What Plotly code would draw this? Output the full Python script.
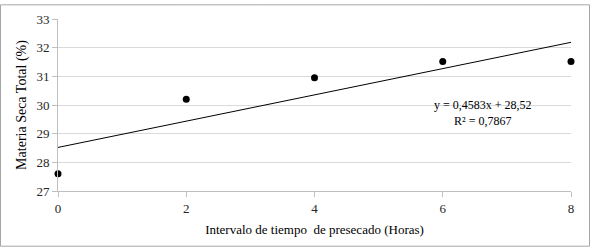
import plotly.graph_objects as go

hours = [0, 2, 4, 6, 8]
materia_seca = [27.6, 30.2, 30.95, 31.52, 31.52]
slope = 0.4583
intercept = 28.52
trend_x = [0, 8]
trend_y = [slope * x + intercept for x in trend_x]
eq_text = "y = 0,4583x + 28,52<br>R² = 0,7867"

W, H = 590, 248
ml, mr, mt, mb = 58, 19, 15, 57
pw, ph = W - ml - mr, H - mt - mb

font = "Liberation Serif, Times New Roman, serif"

fig = go.Figure()
fig.add_trace(go.Scatter(x=trend_x, y=trend_y, mode="lines",
                         line=dict(color="black", width=1), hoverinfo="skip"))
fig.add_trace(go.Scatter(x=hours, y=materia_seca, mode="markers",
                         marker=dict(color="black", size=7), cliponaxis=False))

fig.update_layout(
    width=W, height=H,
    margin=dict(l=ml, r=mr, t=mt, b=mb),
    paper_bgcolor="white", plot_bgcolor="white",
    showlegend=False,
    font=dict(family=font, size=12, color="#404040"),
    xaxis=dict(range=[0, 8], tickvals=[0, 2, 4, 6, 8], showgrid=False,
               showline=True, linecolor="#bfbfbf", linewidth=1,
               ticks="outside", ticklen=5, tickcolor="#bfbfbf",
               tickfont=dict(family=font, size=13, color="#262626"),
               title=dict(text="Intervalo de tiempo\u00a0 de presecado (Horas)",
                          font=dict(family=font, size=13, color="#000000"),
                          standoff=10),
               zeroline=False),
    yaxis=dict(range=[27, 33], dtick=1, showgrid=True, gridcolor="#d9d9d9",
               showline=True, linecolor="#bfbfbf", linewidth=1,
               ticks="outside", ticklen=5, tickcolor="#bfbfbf",
               tickfont=dict(family=font, size=13, color="#262626"),
               title=dict(text="Materia Seca Total (%)",
                          font=dict(family=font, size=14, color="#000000"),
                          standoff=6),
               zeroline=False),
    annotations=[
        dict(x=6.63, y=29.73, xref="x", yref="y", text=eq_text,
             showarrow=False, yanchor="middle", align="center",
             font=dict(family=font, size=12, color="#000000")),
    ],
    shapes=[dict(type="rect", xref="paper", yref="paper",
                 x0=-(ml - 0.5) / pw, x1=1 + (mr - 0.5) / pw,
                 y0=-(mb - 0.5) / ph, y1=1 + (mt - 0.5) / ph,
                 line=dict(color="#a6a6a6", width=1), layer="below")],
)

fig.write_html("out.html")
